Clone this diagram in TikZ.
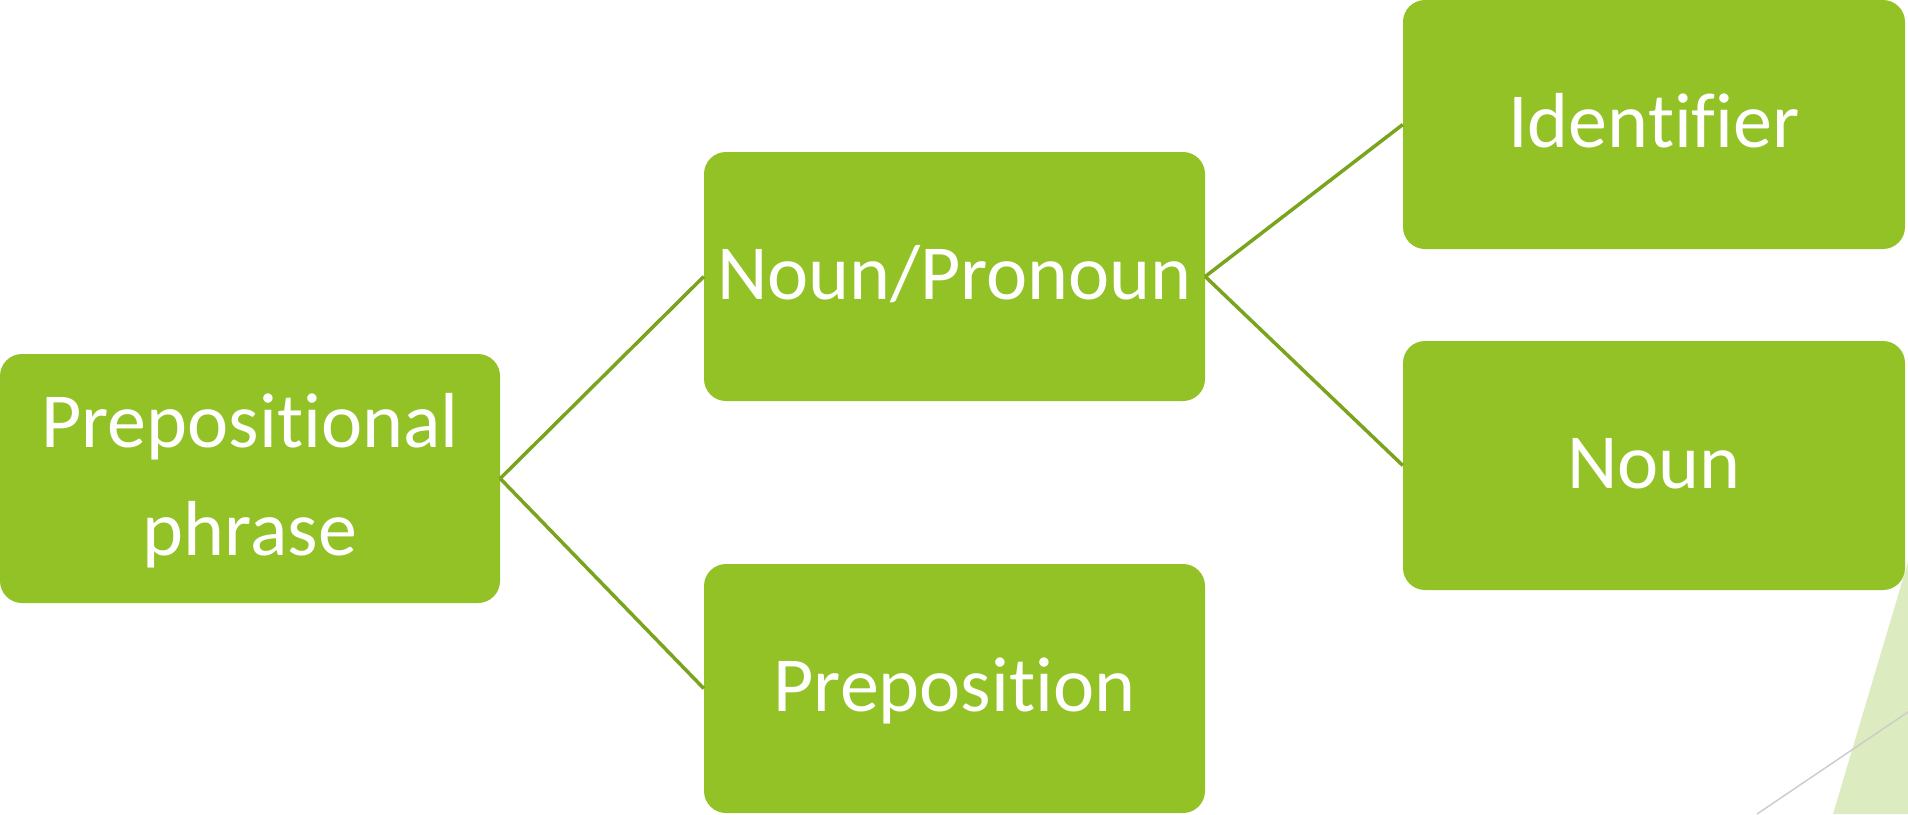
\documentclass[tikz,border=0pt]{standalone}
\usepackage{fontspec}
\setmainfont{Carlito}[Ligatures=NoCommon]
\definecolor{boxgreen}{RGB}{146,194,38}
\definecolor{linegreen}{RGB}{122,163,30}
\definecolor{palegreen}{RGB}{221,235,192}
\definecolor{palegrey}{RGB}{205,205,205}
\begin{document}
\begin{tikzpicture}[x=1pt,y=-1pt,
  box/.style={rectangle, rounded corners=22pt, fill=boxgreen, inner sep=0pt,
    minimum width=501pt, minimum height=249pt, text=white,
    font={\fontsize{78}{108}\selectfont}, align=center,
    text height=60pt, text depth=15pt},
  boxtext/.style={text=white, font={\fontsize{78}{108}\selectfont}, anchor=base, inner sep=0pt},
  link/.style={draw=linegreen, line width=3.5pt}]
\useasboundingbox (0,0) rectangle (1908,814);
% background decoration
\fill[palegreen] (1833,814) -- (1908,562) -- (1908,814) -- cycle;
\draw[palegrey, line width=1.5pt] (1757,814) -- (1908,712);
% boxes
\node[box, minimum width=500pt] (pp) at (250,478.5) {};
\node[box] (np) at (954.5,276.5) {Noun/Pronoun};
\node[box] (prep) at (954.5,688.5) {Preposition};
\node[box, minimum width=502pt] (id) at (1654,124.5) {Identifier};
\node[box, minimum width=502pt] (noun) at (1654,465.5) {Noun};
\node[boxtext] (pptext1) at (250,447) {Prepositional};
\node[boxtext] (pptext2) at (250,555) {phrase};
% connectors
\draw[link] (pp.east) -- (np.west);
\draw[link] (pp.east) -- (prep.west);
\draw[link] (np.east) -- (id.west);
\draw[link] (np.east) -- (noun.west);
\end{tikzpicture}
\end{document}
